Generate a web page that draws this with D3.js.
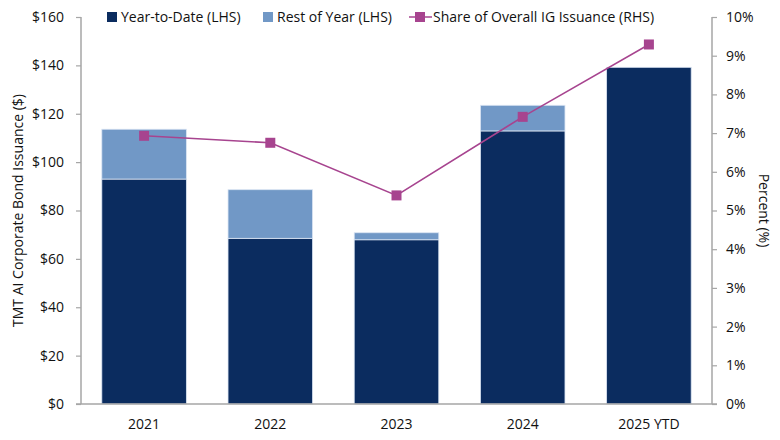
<!DOCTYPE html>
<html>
<head>
<meta charset="utf-8">
<script src="https://cdn.jsdelivr.net/npm/d3@7"></script>
<style>
  body { margin: 0; background: #fff; }
  text { font-family: "Open Sans", "Noto Sans", sans-serif; fill: #111; }
</style>
</head>
<body>
<div id="chart"></div>
<script>
// chart data
var years = ['2021', '2022', '2023', '2024', '2025 YTD'];
var ytd = [93.0, 68.5, 67.9, 112.9, 139.2];
var restOfYear = [20.6, 20.1, 2.9, 10.6, 0];
var sharePct = [6.93, 6.75, 5.39, 7.42, 9.29];
var leftTicks = [0, 20, 40, 60, 80, 100, 120, 140, 160];
var rightTicks = [0, 1, 2, 3, 4, 5, 6, 7, 8, 9, 10];

var width = 780, height = 440;
var margin = { top: 17, right: 68, bottom: 36, left: 81 };
var innerW = width - margin.left - margin.right,
  innerH = height - margin.top - margin.bottom;

var navy = '#0b2c5f', light = '#7198c6', magenta = '#a7448f', axisGrey = '#a6a6a6';

var svg = d3.select('#chart').append('svg')
  .attr('width', width)
  .attr('height', height);

var g = svg.append('g')
  .attr('transform', 'translate(' + margin.left + ',' + margin.top + ')');

var x = d3.scaleBand().domain(years).range([0, innerW]).paddingInner(0.33).paddingOuter(0.165);
var y = d3.scaleLinear().domain([0, 160]).range([innerH, 0]);
var y2 = d3.scaleLinear().domain([0, 10]).range([innerH, 0]);

// stacked bars
var rows = years.map(function (d, i) {
  return { year: d, ytd: ytd[i], rest: restOfYear[i] };
});
var stack = d3.stack().keys(['ytd', 'rest'])(rows);
var colors = { ytd: navy, rest: light };

g.selectAll('g.layer')
  .data(stack)
  .enter()
  .append('g')
  .attr('class', 'layer')
  .attr('fill', function (d) { return colors[d.key]; })
  .selectAll('rect')
  .data(function (d) { return d.filter(function (p) { return p[1] - p[0] > 0; }); })
  .enter()
  .append('rect')
  .attr('x', function (d) { return x(d.data.year); })
  .attr('y', function (d) { return y(d[1]); })
  .attr('width', x.bandwidth())
  .attr('height', function (d) { return y(d[0]) - y(d[1]); })
  .attr('stroke', '#dbe5f3')
  .attr('stroke-width', 0.8);

// left axis
var leftAxis = g.append('g')
  .call(d3.axisLeft(y).tickValues(leftTicks).tickSize(5).tickPadding(12)
    .tickFormat(function (d) { return '$' + d; }));
var rightAxis = g.append('g')
  .attr('transform', 'translate(' + innerW + ',0)')
  .call(d3.axisRight(y2).tickValues(rightTicks).tickSize(5).tickPadding(9)
    .tickFormat(function (d) { return d + '%'; }));
[leftAxis, rightAxis].forEach(function (a) {
  a.select('.domain').attr('stroke', axisGrey).attr('stroke-width', 1.5);
  a.selectAll('.tick line').attr('stroke', axisGrey).attr('stroke-width', 1.2);
  a.selectAll('.tick text').style('font-size', '14px').attr('fill', '#111');
});
leftAxis.select('.domain').attr('d', 'M0,' + innerH + 'V0');
rightAxis.select('.domain').attr('d', 'M0,' + innerH + 'V0');

// bottom baseline and labels
g.append('line')
  .attr('x1', -5).attr('x2', innerW + 5)
  .attr('y1', innerH).attr('y2', innerH)
  .attr('stroke', axisGrey).attr('stroke-width', 1.5);
g.selectAll('text.xlab')
  .data(years)
  .enter()
  .append('text')
  .attr('class', 'xlab')
  .attr('x', function (d) { return x(d) + x.bandwidth() / 2; })
  .attr('y', innerH + 25)
  .attr('text-anchor', 'middle')
  .style('font-size', '14px')
  .text(function (d) { return d; });

// share line
var line = d3.line()
  .x(function (d, i) { return x(years[i]) + x.bandwidth() / 2; })
  .y(function (d) { return y2(d); });
g.append('path')
  .datum(sharePct)
  .attr('d', line)
  .attr('fill', 'none')
  .attr('stroke', magenta)
  .attr('stroke-width', 1.5);
g.selectAll('rect.marker')
  .data(sharePct)
  .enter()
  .append('rect')
  .attr('class', 'marker')
  .attr('x', function (d, i) { return x(years[i]) + x.bandwidth() / 2 - 5; })
  .attr('y', function (d) { return y2(d) - 5; })
  .attr('width', 10)
  .attr('height', 10)
  .attr('fill', magenta);

// axis titles
svg.append('text')
  .attr('transform', 'translate(23,' + (margin.top + innerH / 2) + ') rotate(-90)')
  .attr('text-anchor', 'middle')
  .style('font-size', '14px')
  .text('TMT AI Corporate Bond Issuance ($)');
svg.append('text')
  .attr('transform', 'translate(759,' + (margin.top + innerH / 2) + ') rotate(90)')
  .attr('text-anchor', 'middle')
  .style('font-size', '14px')
  .text('Percent (%)');

// legend
var legend = svg.append('g');
legend.append('rect').attr('x', 107).attr('y', 12).attr('width', 10).attr('height', 10).attr('fill', navy);
legend.append('text').attr('x', 121).attr('y', 22).style('font-size', '14px').text('Year-to-Date (LHS)');
legend.append('rect').attr('x', 263).attr('y', 12).attr('width', 10).attr('height', 10).attr('fill', light);
legend.append('text').attr('x', 277).attr('y', 22).style('font-size', '14px').text('Rest of Year (LHS)');
legend.append('line').attr('x1', 409).attr('x2', 432).attr('y1', 17).attr('y2', 17)
  .attr('stroke', magenta).attr('stroke-width', 1.5);
legend.append('rect').attr('x', 415).attr('y', 12).attr('width', 10).attr('height', 10).attr('fill', magenta);
legend.append('text').attr('x', 433).attr('y', 22).style('font-size', '14px').text('Share of Overall IG Issuance (RHS)');
</script>
</body>
</html>
